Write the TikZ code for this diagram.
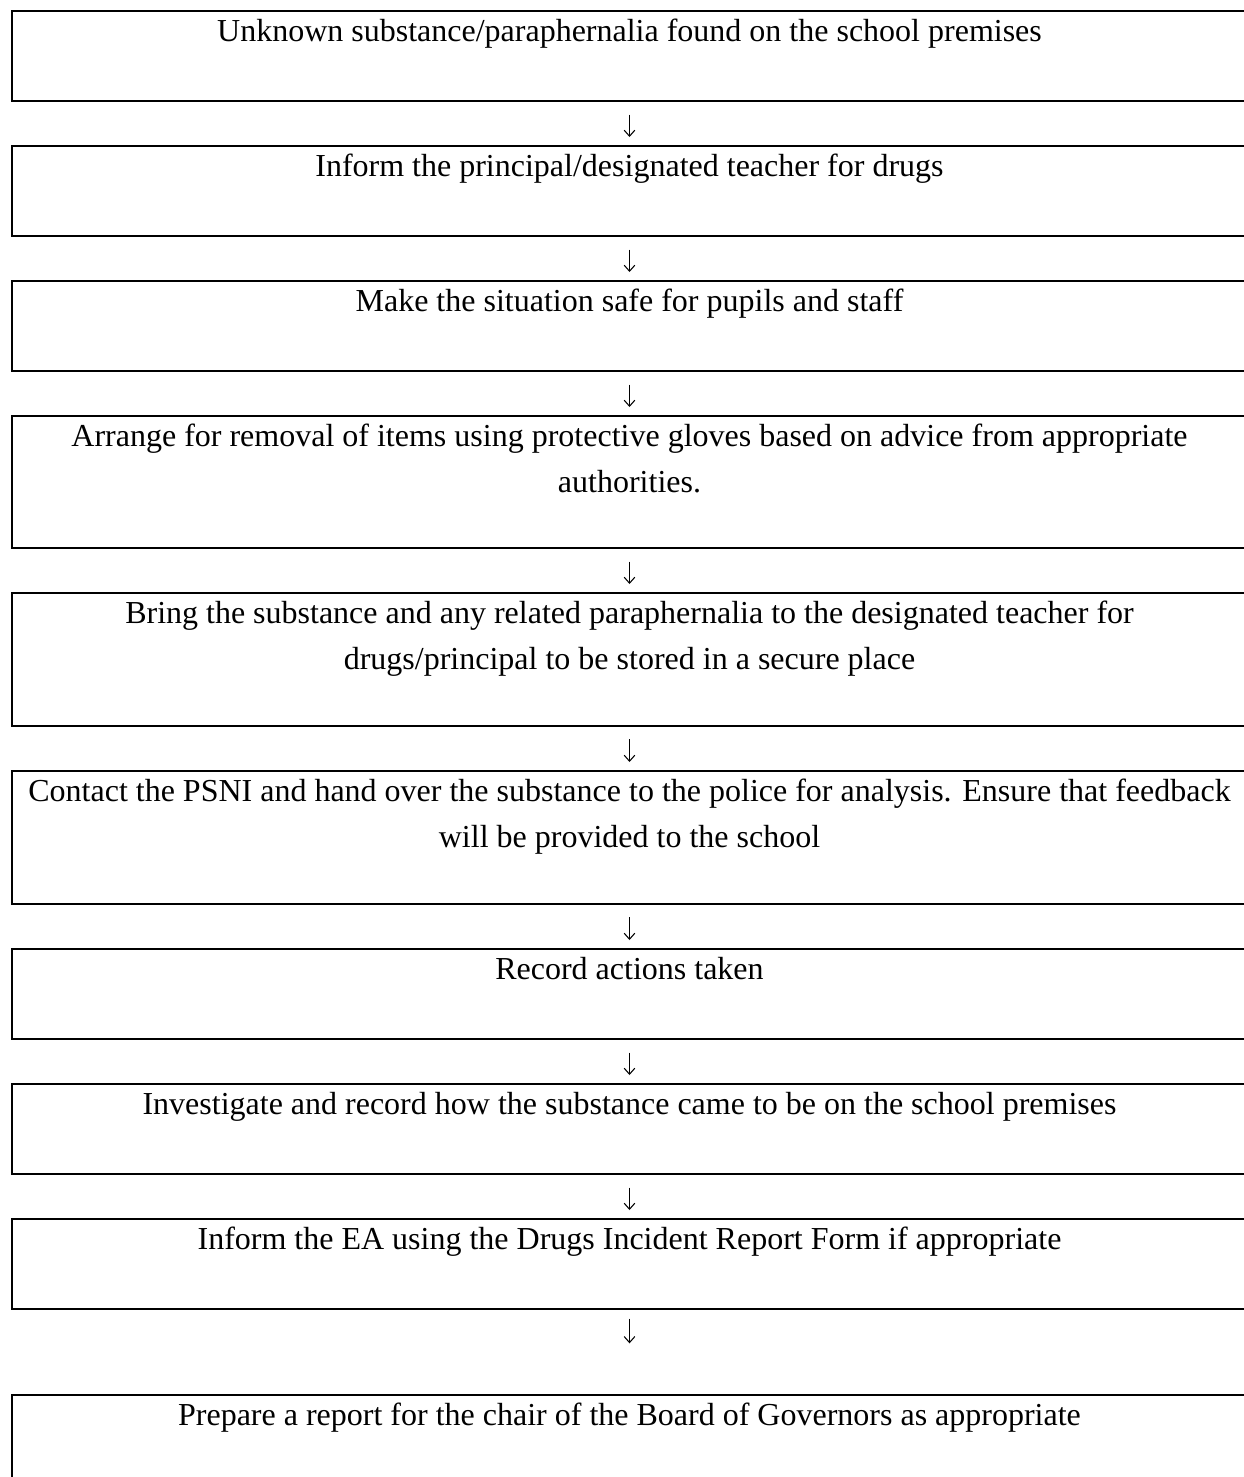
\documentclass[tikz,border=0pt]{standalone}
\usepackage{fontspec}
\setmainfont{Liberation Serif}
\usetikzlibrary{arrows.meta}
\newcommand{\boxtext}[2]{\parbox[c][#1][t]{926.25pt}{\centering\fontsize{24}{34}\selectfont\rule{0pt}{23.2pt}#2}}
\tikzset{
  stepbox/.style={draw, line width=1.5pt, inner sep=0pt, anchor=north west},
  flowarrow/.style={line width=0.8pt, -{Straight Barb[length=4.5pt,width=8pt,line width=0.8pt]}, shorten <=9.5pt, shorten >=6pt}
}
\begin{document}
\begin{tikzpicture}[x=0.75pt,y=-0.75pt]
\clip (0,0) rectangle (1244,1477);
\fill[white] (0,0) rectangle (1244,1477);
\node[stepbox] (b1) at (11,10)   {\boxtext{67.5pt}{Unknown substance/paraphernalia found on the school premises}};
\node[stepbox] (b2) at (11,145)  {\boxtext{67.5pt}{Inform the principal/designated teacher for drugs}};
\node[stepbox] (b3) at (11,280)  {\boxtext{67.5pt}{Make the situation safe for pupils and staff}};
\node[stepbox] (b4) at (11,415)  {\boxtext{99pt}{Arrange for removal of items using protective gloves based on advice from appropriate\\ authorities.}};
\node[stepbox] (b5) at (11,592)  {\boxtext{99.5pt}{Bring the substance and any related paraphernalia to the designated teacher for\\ drugs/principal to be stored in a secure place}};
\node[stepbox] (b6) at (11,770)  {\boxtext{99.5pt}{Contact the PSNI and hand over the substance to the police for analysis. Ensure that feedback\\ will be provided to the school}};
\node[stepbox] (b7) at (11,948)  {\boxtext{67.5pt}{Record actions taken}};
\node[stepbox] (b8) at (11,1083) {\boxtext{67.5pt}{Investigate and record how the substance came to be on the school premises}};
\node[stepbox] (b9) at (11,1218) {\boxtext{67.5pt}{Inform the EA using the Drugs Incident Report Form if appropriate}};
\node[stepbox] (b10) at (11,1394) {\boxtext{67.5pt}{Prepare a report for the chair of the Board of Governors as appropriate}};
\draw[flowarrow] (b1) -- (b2);
\draw[flowarrow] (b2) -- (b3);
\draw[flowarrow] (b3) -- (b4);
\draw[flowarrow] (b4) -- (b5);
\draw[flowarrow] (b5) -- (b6);
\draw[flowarrow] (b6) -- (b7);
\draw[flowarrow] (b7) -- (b8);
\draw[flowarrow] (b8) -- (b9);
\draw[flowarrow, shorten <=6.5pt, shorten >=38pt] (b9) -- (b10);
\end{tikzpicture}
\end{document}
